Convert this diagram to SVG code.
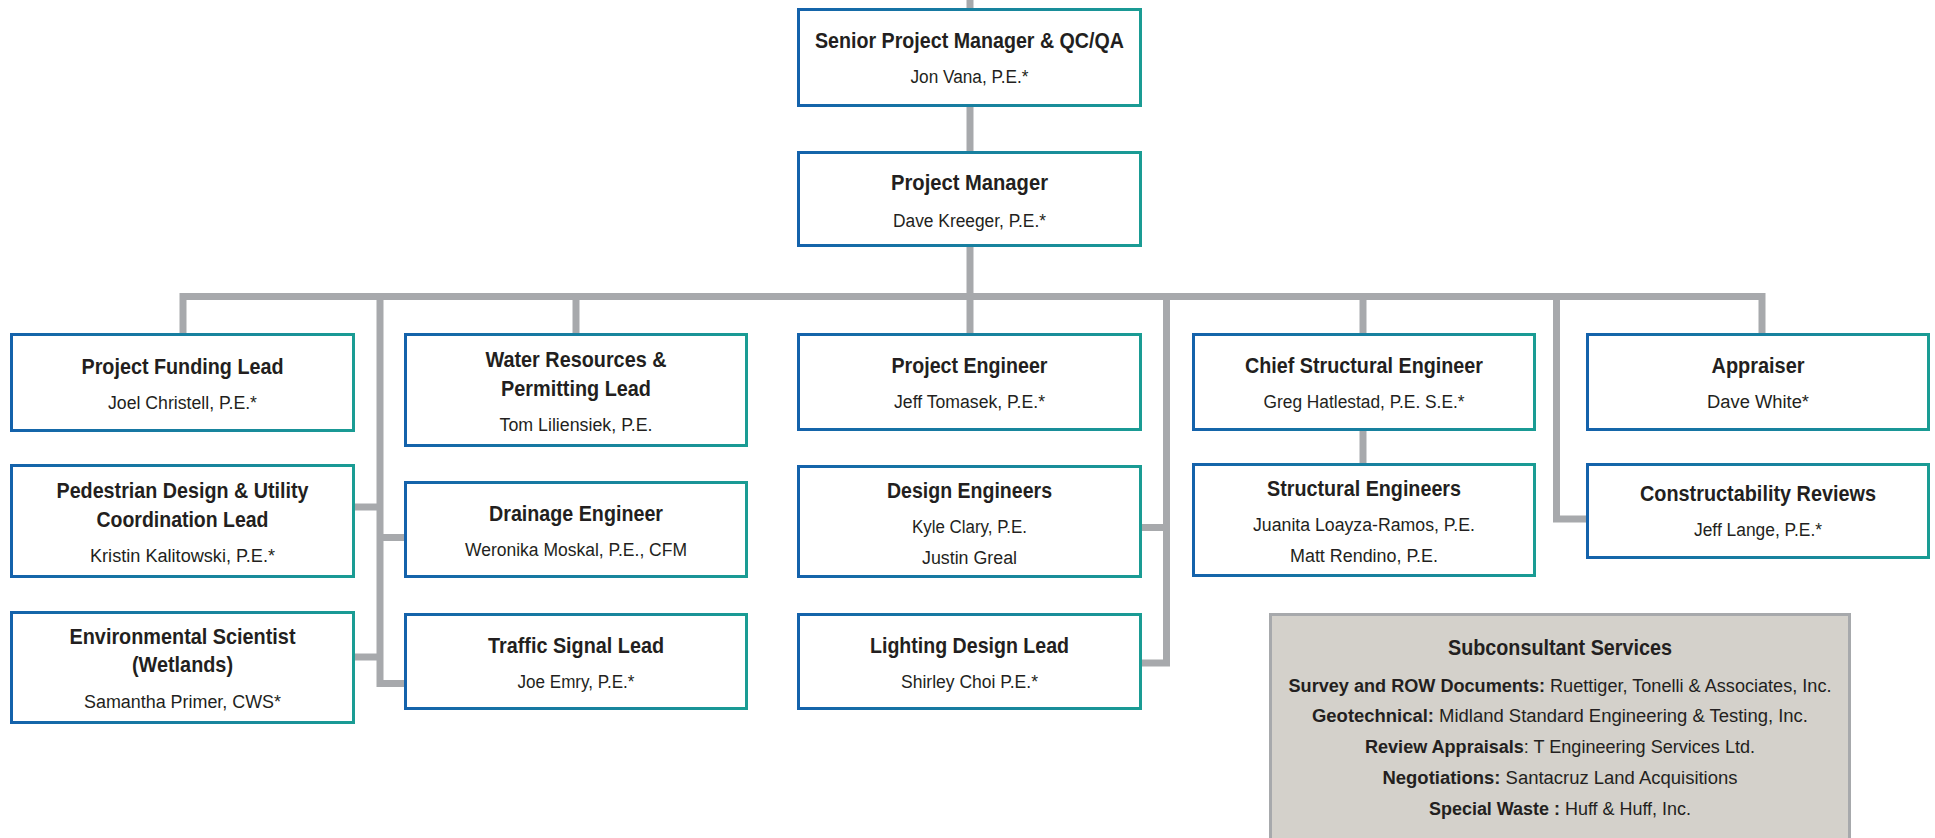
<svg xmlns="http://www.w3.org/2000/svg" width="1935" height="838" viewBox="0 0 1935 838">
<defs>
<linearGradient id="g" x1="0" y1="0" x2="1" y2="0">
<stop offset="0" stop-color="#1462ab"/>
<stop offset="1" stop-color="#1a9c94"/>
</linearGradient>
</defs>
<style>
.box{fill:#ffffff;stroke:url(#g);stroke-width:3}
.sub{fill:#d4d1cb;stroke:#a7a9ac;stroke-width:3}
.t{font-family:"Liberation Sans",Arial,sans-serif;font-weight:bold;font-size:22.5px;fill:#231f20;text-anchor:middle}
.n{font-family:"Liberation Sans",Arial,sans-serif;font-size:18px;fill:#231f20;text-anchor:middle}
.b{font-weight:bold}
.c{fill:none;stroke:#a7a9ac;stroke-width:7;stroke-linejoin:miter}
</style>
<rect width="1935" height="838" fill="#ffffff"/>
<g id="connectors">
<path class="c" d="M970,0 V10"/>
<path class="c" d="M970,107 V151"/>
<path class="c" d="M970,247 V296.5"/>
<path class="c" d="M183,333 V296.5 H1762 V333"/>
<path class="c" d="M380,296.5 V683.5 H404"/>
<path class="c" d="M355,507 H380"/>
<path class="c" d="M355,657 H380"/>
<path class="c" d="M380,537.5 H404"/>
<path class="c" d="M576,296.5 V333"/>
<path class="c" d="M970,296.5 V333"/>
<path class="c" d="M1166.5,296.5 V663 H1142"/>
<path class="c" d="M1142,527.5 H1166.5"/>
<path class="c" d="M1363,296.5 V333"/>
<path class="c" d="M1363,431 V463"/>
<path class="c" d="M1556.5,296.5 V519 H1586"/>
</g>
<g id="senior-pm">
<rect class="box" x="798.5" y="9.5" width="342" height="96"/>
<text class="t" x="969.5" y="48" textLength="309" lengthAdjust="spacingAndGlyphs">Senior Project Manager &amp; QC/QA</text>
<text class="n" x="969.5" y="83" textLength="118" lengthAdjust="spacingAndGlyphs">Jon Vana, P.E.*</text>
</g>
<g id="project-manager">
<rect class="box" x="798.5" y="152.5" width="342" height="93"/>
<text class="t" x="969.5" y="190" textLength="157" lengthAdjust="spacingAndGlyphs">Project Manager</text>
<text class="n" x="969.5" y="227" textLength="153" lengthAdjust="spacingAndGlyphs">Dave Kreeger, P.E.*</text>
</g>
<g id="funding-lead">
<rect class="box" x="11.5" y="334.5" width="342" height="96"/>
<text class="t" x="182.5" y="374" textLength="202" lengthAdjust="spacingAndGlyphs">Project Funding Lead</text>
<text class="n" x="182.5" y="409" textLength="149" lengthAdjust="spacingAndGlyphs">Joel Christell, P.E.*</text>
</g>
<g id="pedestrian-lead">
<rect class="box" x="11.5" y="465.5" width="342" height="111"/>
<text class="t" x="182.5" y="498" textLength="252" lengthAdjust="spacingAndGlyphs">Pedestrian Design &amp; Utility</text>
<text class="t" x="182.5" y="527" textLength="172" lengthAdjust="spacingAndGlyphs">Coordination Lead</text>
<text class="n" x="182.5" y="562" textLength="185" lengthAdjust="spacingAndGlyphs">Kristin Kalitowski, P.E.*</text>
</g>
<g id="environmental">
<rect class="box" x="11.5" y="612.5" width="342" height="110"/>
<text class="t" x="182.5" y="644" textLength="226" lengthAdjust="spacingAndGlyphs">Environmental Scientist</text>
<text class="t" x="182.5" y="672" textLength="101" lengthAdjust="spacingAndGlyphs">(Wetlands)</text>
<text class="n" x="182.5" y="708" textLength="197" lengthAdjust="spacingAndGlyphs">Samantha Primer, CWS*</text>
</g>
<g id="water-resources">
<rect class="box" x="405.5" y="334.5" width="341" height="111"/>
<text class="t" x="576" y="367" textLength="181" lengthAdjust="spacingAndGlyphs">Water Resources &amp;</text>
<text class="t" x="576" y="396" textLength="150" lengthAdjust="spacingAndGlyphs">Permitting Lead</text>
<text class="n" x="576" y="431" textLength="153" lengthAdjust="spacingAndGlyphs">Tom Liliensiek, P.E.</text>
</g>
<g id="drainage">
<rect class="box" x="405.5" y="482.5" width="341" height="94"/>
<text class="t" x="576" y="521" textLength="174" lengthAdjust="spacingAndGlyphs">Drainage Engineer</text>
<text class="n" x="576" y="556" textLength="222" lengthAdjust="spacingAndGlyphs">Weronika Moskal, P.E., CFM</text>
</g>
<g id="traffic">
<rect class="box" x="405.5" y="614.5" width="341" height="94"/>
<text class="t" x="576" y="653" textLength="176" lengthAdjust="spacingAndGlyphs">Traffic Signal Lead</text>
<text class="n" x="576" y="688" textLength="117" lengthAdjust="spacingAndGlyphs">Joe Emry, P.E.*</text>
</g>
<g id="project-engineer">
<rect class="box" x="798.5" y="334.5" width="342" height="95"/>
<text class="t" x="969.5" y="373" textLength="156" lengthAdjust="spacingAndGlyphs">Project Engineer</text>
<text class="n" x="969.5" y="408" textLength="151" lengthAdjust="spacingAndGlyphs">Jeff Tomasek, P.E.*</text>
</g>
<g id="design-engineers">
<rect class="box" x="798.5" y="466.5" width="342" height="110"/>
<text class="t" x="969.5" y="498" textLength="165" lengthAdjust="spacingAndGlyphs">Design Engineers</text>
<text class="n" x="969.5" y="533" textLength="115" lengthAdjust="spacingAndGlyphs">Kyle Clary, P.E.</text>
<text class="n" x="969.5" y="564" textLength="95" lengthAdjust="spacingAndGlyphs">Justin Greal</text>
</g>
<g id="lighting">
<rect class="box" x="798.5" y="614.5" width="342" height="94"/>
<text class="t" x="969.5" y="653" textLength="199" lengthAdjust="spacingAndGlyphs">Lighting Design Lead</text>
<text class="n" x="969.5" y="688" textLength="137" lengthAdjust="spacingAndGlyphs">Shirley Choi P.E.*</text>
</g>
<g id="chief-structural">
<rect class="box" x="1193.5" y="334.5" width="341" height="95"/>
<text class="t" x="1364" y="373" textLength="238" lengthAdjust="spacingAndGlyphs">Chief Structural Engineer</text>
<text class="n" x="1364" y="408" textLength="201" lengthAdjust="spacingAndGlyphs">Greg Hatlestad, P.E. S.E.*</text>
</g>
<g id="structural-engineers">
<rect class="box" x="1193.5" y="464.5" width="341" height="111"/>
<text class="t" x="1364" y="496" textLength="194" lengthAdjust="spacingAndGlyphs">Structural Engineers</text>
<text class="n" x="1364" y="531" textLength="222" lengthAdjust="spacingAndGlyphs">Juanita Loayza-Ramos, P.E.</text>
<text class="n" x="1364" y="562" textLength="148" lengthAdjust="spacingAndGlyphs">Matt Rendino, P.E.</text>
</g>
<g id="appraiser">
<rect class="box" x="1587.5" y="334.5" width="341" height="95"/>
<text class="t" x="1758" y="373" textLength="93" lengthAdjust="spacingAndGlyphs">Appraiser</text>
<text class="n" x="1758" y="408" textLength="102" lengthAdjust="spacingAndGlyphs">Dave White*</text>
</g>
<g id="constructability">
<rect class="box" x="1587.5" y="464.5" width="341" height="93"/>
<text class="t" x="1758" y="501" textLength="236" lengthAdjust="spacingAndGlyphs">Constructability Reviews</text>
<text class="n" x="1758" y="536" textLength="128" lengthAdjust="spacingAndGlyphs">Jeff Lange, P.E.*</text>
</g>
<g id="subconsultants">
<rect class="sub" x="1270.5" y="614.5" width="579" height="240"/>
<text class="t" x="1560" y="655" textLength="224" lengthAdjust="spacingAndGlyphs">Subconsultant Services</text>
<text class="n" x="1560" y="692" textLength="543" lengthAdjust="spacingAndGlyphs"><tspan class="b">Survey and ROW Documents:</tspan> Ruettiger, Tonelli &amp; Associates, Inc.</text>
<text class="n" x="1560" y="722" textLength="496" lengthAdjust="spacingAndGlyphs"><tspan class="b">Geotechnical:</tspan> Midland Standard Engineering &amp; Testing, Inc.</text>
<text class="n" x="1560" y="753" textLength="390" lengthAdjust="spacingAndGlyphs"><tspan class="b">Review Appraisals</tspan>: T Engineering Services Ltd.</text>
<text class="n" x="1560" y="784" textLength="355" lengthAdjust="spacingAndGlyphs"><tspan class="b">Negotiations:</tspan> Santacruz Land Acquisitions</text>
<text class="n" x="1560" y="815" textLength="262" lengthAdjust="spacingAndGlyphs"><tspan class="b">Special Waste :</tspan> Huff &amp; Huff, Inc.</text>
</g>
</svg>
